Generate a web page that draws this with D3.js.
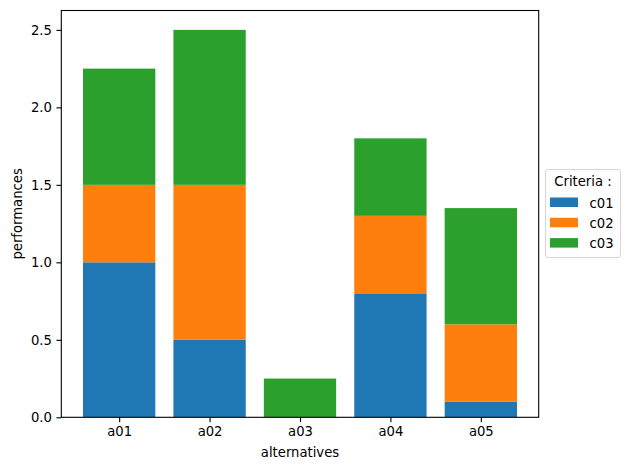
<!DOCTYPE html>
<html><head><meta charset="utf-8">
<script src="https://cdn.jsdelivr.net/npm/d3@7"></script>
<style>body{margin:0;background:#fff;} text{font-family:"DejaVu Sans",sans-serif;}</style>
</head><body>
<svg id="c" width="630" height="470"></svg>
<script>
const categories = ["a01","a02","a03","a04","a05"];
const seriesNames = ["c01","c02","c03"];
const c01 = [1.0, 0.5, 0.0, 0.8, 0.1];
const c02 = [0.5, 1.0, 0.0, 0.5, 0.5];
const c03 = [0.75, 1.0, 0.25, 0.5, 0.75];
const colors = ["#1f77b4","#ff7f0e","#2ca02c"];
const yTicks = [0,0.5,1.0,1.5,2.0,2.5];

const svg = d3.select("#c");
const L=61.3, R=538.7, T=10.5, B=417.3;
const FS = 13.2;
const data = categories.map((k,i)=>({cat:k, c01:c01[i], c02:c02[i], c03:c03[i]}));
const stack = d3.stack().keys(seriesNames)(data);

const x = d3.scaleLinear().domain([-0.64,4.64]).range([L,R]);
const y = d3.scaleLinear().domain([0,2.625]).range([B,T]);

stack.forEach((s,si)=>{
  svg.append("g").selectAll("rect").data(s).enter().append("rect")
    .attr("x",(d,i)=>x(i-0.4)).attr("width",x(0.4)-x(-0.4))
    .attr("y",d=>y(d[1])).attr("height",d=>y(d[0])-y(d[1]))
    .attr("fill",colors[si]);
});

const ya = svg.append("g").attr("transform",`translate(${L},0)`)
  .call(d3.axisLeft(y).tickValues(yTicks).tickFormat(d3.format(".1f")).tickSize(4.9).tickPadding(4.5));
const xa = svg.append("g").attr("transform",`translate(0,${B})`)
  .call(d3.axisBottom(x).tickValues(d3.range(5)).tickFormat(i=>categories[i]).tickSize(4.9).tickPadding(4.5));
[ya,xa].forEach(a=>{a.select(".domain").remove();a.selectAll("text").attr("font-size",FS).attr("fill","#000").style("font-family","DejaVu Sans");a.selectAll("line").attr("stroke","#000").attr("stroke-width",1.1);});

svg.append("rect").attr("x",L).attr("y",T).attr("width",R-L).attr("height",B-T)
  .attr("fill","none").attr("stroke","#000").attr("stroke-width",1.1);

svg.append("text").attr("x",(L+R)/2).attr("y",457).attr("text-anchor","middle").attr("font-size",FS).text("alternatives");
svg.append("text").attr("transform",`translate(21.5,${(T+B)/2}) rotate(-90)`).attr("text-anchor","middle").attr("font-size",FS).text("performances");

const lg = svg.append("g");
lg.append("rect").attr("x",545.5).attr("y",169.5).attr("width",75).attr("height",88).attr("rx",2.5)
  .attr("fill","#fff").attr("stroke","#d6d6d6").attr("stroke-width",1);
lg.append("text").attr("x",583).attr("y",186).attr("text-anchor","middle").attr("font-size",FS).text("Criteria :");
seriesNames.forEach((n,i)=>{
  const yy = 197.5 + i*20.3;
  lg.append("rect").attr("x",550).attr("y",yy).attr("width",28).attr("height",9.5).attr("fill",colors[i]);
  lg.append("text").attr("x",589.5).attr("y",yy+10).attr("font-size",FS).text(n);
});
</script>
</body></html>
